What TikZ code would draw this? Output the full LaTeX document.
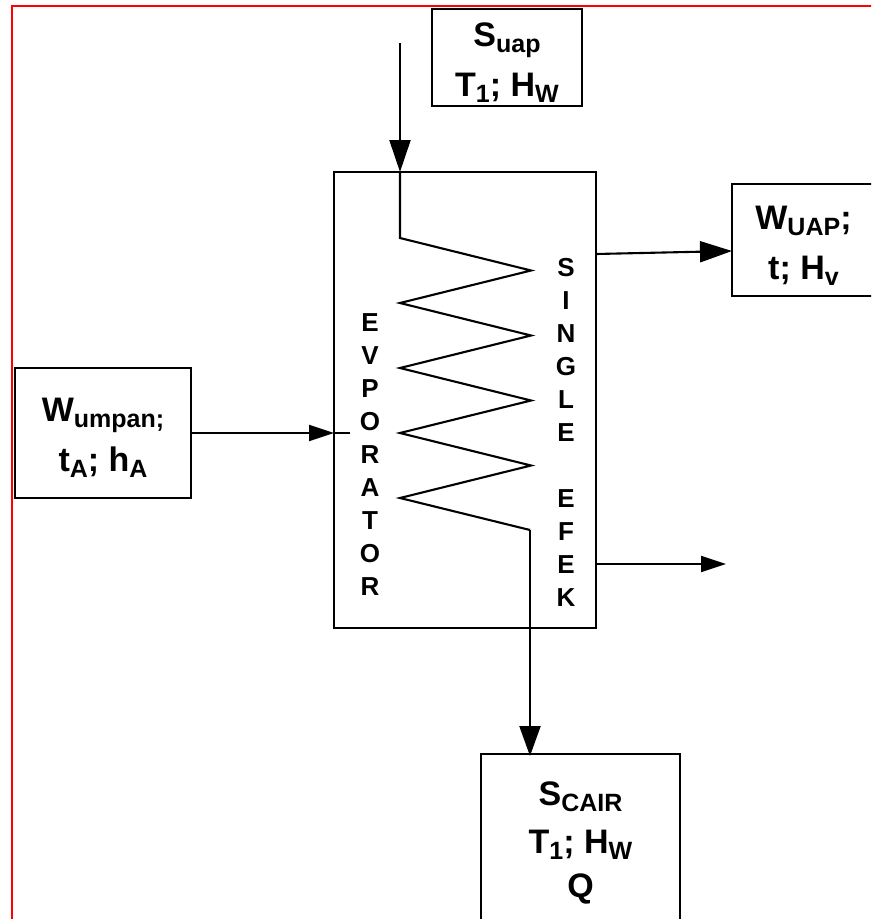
\documentclass[tikz,border=0pt]{standalone}
\usepackage{fontspec}
\setmainfont{Liberation Sans}
\usepackage{xcolor}
\usetikzlibrary{
  arrows.meta,
  positioning,
  calc
}
\newcommand{\lowtext}[1]{\raisebox{-6pt}{\fontsize{25}{25}\selectfont #1}}
\newcommand{\topgap}[1]{\rule{0pt}{#1}}
\tikzset{
  flowbox/.style={
    draw, line width=2.1pt, fill=white, align=center, inner sep=0pt, outer sep=0pt,
    font=\fontsize{34}{50}\selectfont\bfseries
  },
  lettercol/.style={
    align=center, inner sep=0pt, font=\fontsize{26}{33}\selectfont\bfseries
  },
  coilline/.style={line width=2.1pt},
  bigflow/.style={-{Triangle[length=30pt, width=21pt]}, line width=2.1pt, shorten >=-2pt},
  midflow/.style={-{Triangle[length=32pt, width=21pt]}, line width=2.1pt},
  smallflow/.style={-{Triangle[length=25pt, width=16pt]}, line width=2.1pt}
}
\begin{document}
\begin{tikzpicture}[x=1pt, y=-1pt]
  \clip (0,0) rectangle (871,919);
  \fill[white] (0,0) rectangle (871,919);
  \draw[red, line width=1.8pt] (12,930) -- (12,6) -- (880,6);
  % main vessel and streams round it
  \node[flowbox, minimum width=262pt, minimum height=456pt] (evap) at (465,400) {};
  \node[flowbox, minimum width=150pt, minimum height=97pt, above=66pt of evap, xshift=42pt] (suap)
    {\topgap{34pt}S\lowtext{uap}\\T\lowtext{1}; H\lowtext{W}};
  \node[flowbox, minimum width=143pt, minimum height=112pt, right=136pt of evap, yshift=160pt] (wuap)
    {\topgap{34pt}W\lowtext{UAP};\\t; H\lowtext{v}};
  \node[flowbox, minimum width=176pt, minimum height=130pt, left=143pt of evap, yshift=-33pt] (wumpan)
    {\topgap{33pt}W\lowtext{umpan;}\\t\lowtext{A}; h\lowtext{A}};
  \node[flowbox, minimum width=199pt, minimum height=172pt, below=126pt of evap, xshift=115.5pt] (scair)
    {\topgap{29pt}S\lowtext{CAIR}\\[-2pt]T\lowtext{1}; H\lowtext{W}\\[-6pt]Q};
  \node[lettercol] (evaptext) at (370,455) {E\\V\\P\\O\\R\\A\\T\\O\\R};
  \node[lettercol] (singletext) at (566,432) {S\\I\\N\\G\\L\\E\\ \\E\\F\\E\\K};
  % coil
  \coordinate (coiltop) at (400,43);
  \coordinate (coilstart) at (400,238);
  \coordinate (coilend) at (530,530);
  \coordinate (steamout) at (596,254);
  \coordinate (condout) at (596,564);
  \coordinate (condend) at (726,564);
  \coordinate (feedend) at (350,433);
  \draw[midflow] (coiltop) -- (coiltop |- evap.north);
  \draw[coilline] (coiltop |- evap.north) -- (coilstart)
    \foreach \i in {0,1,2,3} {-- ++(131,32.5) -- ++(-131,32.5)} -- (coilend);
  \draw[bigflow] (coilend) -- (coilend |- scair.north);
  % side streams
  \draw[smallflow] (wumpan.east |- feedend) -- (evap.west |- feedend);
  \draw[coilline] (evap.west |- feedend) -- (feedend);
  \draw[midflow] (steamout) -- (wuap.west |- 0,251);
  \draw[smallflow] (condout) -- (condend);
\end{tikzpicture}
\end{document}
